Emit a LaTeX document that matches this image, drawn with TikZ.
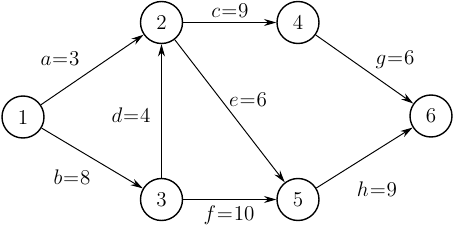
\documentclass[tikz,border=0pt]{standalone}
\usetikzlibrary{arrows.meta}

\tikzset{vtx/.style={draw,circle,line width=0.8pt,minimum size=0.84cm,inner sep=0pt,font=\fontsize{12}{14}\selectfont},
  arc/.style={-{Stealth[length=7pt,width=4pt]},line width=0.55pt},
  wt/.style={font=\fontsize{12}{14}\selectfont}}
\newcommand{\wlab}[2]{$#1\kern0.5pt{=}\kern0.5pt\mathrm{#2}$}

\begin{document}
\begin{tikzpicture}[x=0.02cm,y=-0.02cm]
 \useasboundingbox (0,0) rectangle (454,230);
 \node[vtx] (n1) at (23,117)     {1};
 \node[vtx] (n2) at (161.5,22.5) {2};
 \node[vtx] (n3) at (161.5,199.5){3};
 \node[vtx] (n4) at (298,22.5)   {4};
 \node[vtx] (n5) at (298,199.5)  {5};
 \node[vtx] (n6) at (431,116)    {6};
  \draw[arc] (n1) -- (n2);
  \draw[arc] (n1) -- (n3);
  \draw[arc] (n3) -- (n2);
  \draw[arc] (n2) -- (n4);
  \draw[arc] (n2) -- (n5);
  \draw[arc] (n3) -- (n5);
  \draw[arc] (n4) -- (n6);
  \draw[arc] (n5) -- (n6);
 \node[wt] (la) at (60,59)   {\wlab{a}{3}};
 \node[wt] (lb) at (72,177)  {\wlab{b}{8}};
 \node[wt] (lc) at (230,11)  {\wlab{c}{9}};
 \node[wt] (ld) at (131,115) {\wlab{d}{4}};
 \node[wt] (le) at (248,100) {\wlab{e}{6}};
 \node[wt] (lf) at (229,215) {\wlab{f}{10}};
 \node[wt] (lg) at (395,60)  {\wlab{g}{6}};
 \node[wt] (lh) at (377,189) {\wlab{h}{9}};
\end{tikzpicture}
\end{document}
